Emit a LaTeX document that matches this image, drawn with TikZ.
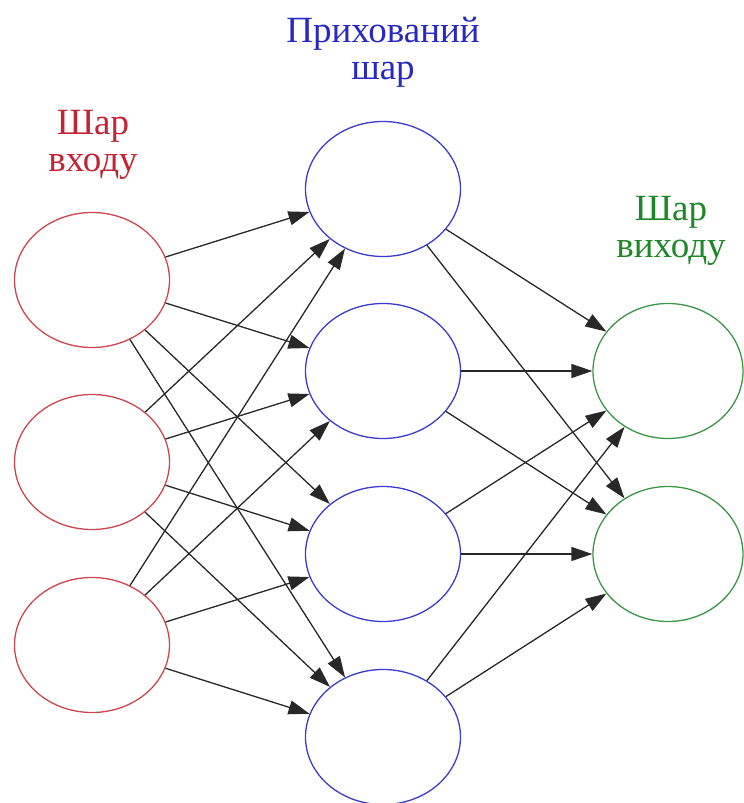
\documentclass[tikz,border=0pt]{standalone}
\usepackage{fontspec}
\setmainfont{Liberation Serif}
\usetikzlibrary{shapes.geometric,arrows.meta}

\definecolor{inred}{RGB}{195,35,50}
\definecolor{inredline}{RGB}{205,70,80}
\definecolor{hidblue}{RGB}{40,40,195}
\definecolor{hidblueline}{RGB}{60,60,205}
\definecolor{outgreen}{RGB}{30,135,40}
\definecolor{outgreenline}{RGB}{60,150,70}
\definecolor{edgegray}{RGB}{40,40,40}

\tikzset{
  neuron/.style={ellipse, draw, line width=1.3pt, fill=white, inner sep=0pt,
                 minimum width=155pt, minimum height=135pt},
  inneuron/.style={neuron, draw=inredline},
  hidneuron/.style={neuron, draw=hidblueline},
  outneuron/.style={neuron, draw=outgreenline, minimum width=150pt},
  lbl/.style={font=\fontsize{37}{37}\selectfont, align=center, inner sep=0pt},
  link/.style={draw=edgegray, line width=1.3pt,
               -{Triangle[length=21pt,width=14pt]}}
}

\begin{document}
\begin{tikzpicture}[x=1pt,y=-1pt]
  \useasboundingbox (0,0) rectangle (744,803);

  % layer titles
  \node[lbl, text=inred] (inTitle) at (93,145) {Шар\\входу};
  \node[lbl, text=hidblue] (hidTitle) at (383,52) {Прихований\\шар};
  \node[lbl, text=outgreen] (outTitle) at (671,231) {Шар\\виходу};

  % input layer
  \node[inneuron] (i1) at (92,280) {};
  \node[inneuron] (i2) at (92,462) {};
  \node[inneuron] (i3) at (92,645) {};

  % hidden layer
  \node[hidneuron] (h1) at (383,189) {};
  \node[hidneuron] (h2) at (383,371) {};
  \node[hidneuron] (h3) at (383,554) {};
  \node[hidneuron] (h4) at (383,737) {};

  % output layer
  \node[outneuron] (o1) at (668,371) {};
  \node[outneuron] (o2) at (668,554) {};

  % connections
  \foreach \i in {1,2,3}
    \foreach \h in {1,2,3,4}
      \draw[link] (i\i) -- (h\h);
  \foreach \h in {1,2,3,4}
    \foreach \o in {1,2}
      \draw[link] (h\h) -- (o\o);
\end{tikzpicture}
\end{document}
